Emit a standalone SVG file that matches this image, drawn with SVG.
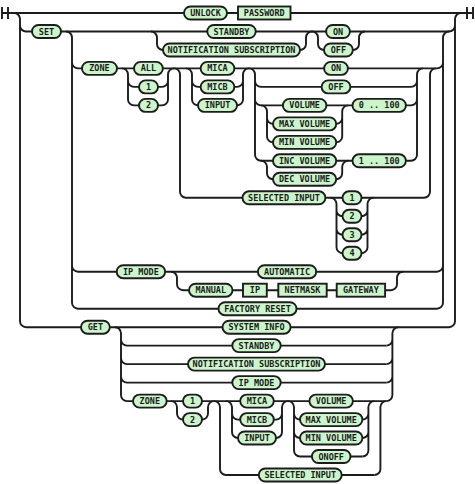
<svg xmlns="http://www.w3.org/2000/svg" width="475" height="484" viewBox="0 0 475 484">
<style>
path{fill:none;stroke:#1c1c1c;stroke-width:1.9}
rect{fill:#ccf5cc;stroke:#1c1c1c;stroke-width:1.9}
rect.t{rx:6.5;ry:6.5}
text{font-family:"DejaVu Sans Mono",monospace;font-weight:bold;font-size:8.5px;text-anchor:middle;fill:#1c1c1c;white-space:pre}
</style>
<rect x="0" y="0" width="475" height="484" style="fill:#fff;stroke:none"/>
<g id="connectors">
<!-- start / end markers and top row -->
<path d="M2 7v12M8 7v12M2 13H184M227 13H238M290.5 13H473M467 7v12M473 7v12"/>
<!-- outer choice -->
<path d="M14 13a6 6 0 0 1 6 6V321.2a6 6 0 0 0 6 6M20 25.5a6 6 0 0 0 6 6"/>
<path d="M449 327.2a6 6 0 0 0 6 -6V19a6 6 0 0 1 6 -6M449 31.5a6 6 0 0 0 6 -6"/>
<!-- SET row -->
<path d="M26 31.5H32M61 31.5H207.3M255.7 31.5H326.1M349.9 31.5H449"/>
<path d="M66 31.5a6 6 0 0 1 6 6V302.7a6 6 0 0 0 6 6M72 62.4a6 6 0 0 0 6 6M72 265.7a6 6 0 0 0 6 6"/>
<path d="M437 308.7a6 6 0 0 0 6 -6V37.5a6 6 0 0 1 6 -6M437 68.4a6 6 0 0 0 6 -6M437 271.7a6 6 0 0 0 6 -6"/>
<path d="M151 31.5a6 6 0 0 1 6 6V44a6 6 0 0 0 6 6M300 50a6 6 0 0 0 6 -6V37.5a6 6 0 0 1 6 -6"/>
<path d="M312 31.5a6 6 0 0 1 6 6V44a6 6 0 0 0 6 6M352.8 50H353a6 6 0 0 0 6 -6V37.5a6 6 0 0 1 6 -6"/>
<!-- SET ZONE row -->
<path d="M78 68.4H82M117 68.4H134M162.8 68.4H200.65M234.35 68.4H324.1M347.9 68.4H437"/>
<path d="M122 68.4a6 6 0 0 1 6 6V99.4a6 6 0 0 0 6 6M128 80.9a6 6 0 0 0 6 6M134 86.9H139M134 105.4H139M158 86.9H162M158 105.4H162"/>
<path d="M162 105.4a6 6 0 0 0 6 -6V74.4a6 6 0 0 1 6 -6M162 86.9a6 6 0 0 0 6 -6"/>
<path d="M174 68.4a6 6 0 0 1 6 6V191.8a6 6 0 0 0 6 6M186 197.8H242.5M325.4 197.8H342.5M361.5 197.8H424"/>
<path d="M330.5 197.8a6 6 0 0 1 6 6V247.2a6 6 0 0 0 6 6M336.5 210.3a6 6 0 0 0 6 6M336.5 228.8a6 6 0 0 0 6 6"/>
<path d="M361.5 253.2a6 6 0 0 0 6 -6V203.8a6 6 0 0 1 6 -6M361.5 216.3a6 6 0 0 0 6 -6M361.5 234.8a6 6 0 0 0 6 -6"/>
<path d="M424 197.8a6 6 0 0 0 6 -6V74.4a6 6 0 0 1 6 -6"/>
<path d="M186 68.4a6 6 0 0 1 6 6V99.4a6 6 0 0 0 6 6M192 80.9a6 6 0 0 0 6 6M198 86.9H200.65M234.35 86.9H237"/>
<path d="M237 105.4a6 6 0 0 0 6 -6V74.4a6 6 0 0 1 6 -6M237 86.9a6 6 0 0 0 6 -6"/>
<path d="M249 68.4a6 6 0 0 1 6 6V154.8a6 6 0 0 0 6 6M255 80.9a6 6 0 0 0 6 6M255 99.4a6 6 0 0 0 6 6"/>
<path d="M261 86.9H321.6M350.4 86.9H411M261 105.4H282.9M326.4 105.4H352.5M405.9 105.4H411"/>
<path d="M261 105.4a6 6 0 0 1 6 6V136.4a6 6 0 0 0 6 6M267 117.9a6 6 0 0 0 6 6"/>
<path d="M336.2 142.4a6 6 0 0 0 6 -6V111.4a6 6 0 0 1 6 -6M336.2 123.9a6 6 0 0 0 6 -6"/>
<path d="M261 160.8H273M336.2 160.8H352.5M405.9 160.8H411"/>
<path d="M261 160.8a6 6 0 0 1 6 6V173.3a6 6 0 0 0 6 6M336.2 179.3a6 6 0 0 0 6 -6V166.8a6 6 0 0 1 6 -6"/>
<path d="M411 160.8a6 6 0 0 0 6 -6V74.4a6 6 0 0 1 6 -6M411 86.9a6 6 0 0 0 6 -6M411 105.4a6 6 0 0 0 6 -6"/>
<!-- IP MODE / FACTORY RESET rows -->
<path d="M78 271.7H116.7M165.1 271.7H257.9M316.2 271.7H437"/>
<path d="M171 271.7a6 6 0 0 1 6 6V284.2a6 6 0 0 0 6 6M183 290.2H189M232.5 290.2H243M266.8 290.2H278.3M326.7 290.2H336.7M385.1 290.2H391"/>
<path d="M391 290.2a6 6 0 0 0 6 -6V277.7a6 6 0 0 1 6 -6"/>
<path d="M78 308.7H218.5M296.5 308.7H437"/>
<!-- GET rows -->
<path d="M26 327.2H81M109.8 327.2H222.5M290.6 327.2H449"/>
<path d="M115 327.2a6 6 0 0 1 6 6V395.1a6 6 0 0 0 6 6M121 339.6a6 6 0 0 0 6 6M121 358.1a6 6 0 0 0 6 6M121 376.6a6 6 0 0 0 6 6"/>
<path d="M127 345.6H232.3M280.7 345.6H386.4M127 364.1H188M325 364.1H386.4M127 382.6H232.3M280.7 382.6H386.4"/>
<path d="M386.4 401.1a6 6 0 0 0 6 -6V333.2a6 6 0 0 1 6 -6M386.4 345.6a6 6 0 0 0 6 -6M386.4 364.1a6 6 0 0 0 6 -6M386.4 382.6a6 6 0 0 0 6 -6"/>
<path d="M127 401.1H133M166.7 401.1H183M202 401.1H240.2M273.8 401.1H309.4M352.9 401.1H386.4"/>
<path d="M171 401.1a6 6 0 0 1 6 6V413.6a6 6 0 0 0 6 6M202 419.6a6 6 0 0 0 6 -6V407.1a6 6 0 0 1 6 -6"/>
<path d="M214 401.1a6 6 0 0 1 6 6V469a6 6 0 0 0 6 6M226 475H258.8M341.7 475H374.4"/>
<path d="M374.4 475a6 6 0 0 0 6 -6V407.1a6 6 0 0 1 6 -6"/>
<path d="M226 401.1a6 6 0 0 1 6 6V432a6 6 0 0 0 6 6M232 413.6a6 6 0 0 0 6 6M238 419.6H240.2M273.8 419.6H276"/>
<path d="M276 438a6 6 0 0 0 6 -6V407.1a6 6 0 0 1 6 -6M276 419.6a6 6 0 0 0 6 -6"/>
<path d="M288 401.1a6 6 0 0 1 6 6V450.5a6 6 0 0 0 6 6M294 413.6a6 6 0 0 0 6 6M294 432a6 6 0 0 0 6 6M300 456.5H311.9M350.5 456.5H362.4"/>
<path d="M362.4 456.5a6 6 0 0 0 6 -6V407.1a6 6 0 0 1 6 -6M362.4 419.6a6 6 0 0 0 6 -6M362.4 438a6 6 0 0 0 6 -6"/>
</g>
<g id="n-unlock"><rect class="t" x="184" y="6.5" width="43" height="13"/><text x="205.5" y="16">UNLOCK</text></g>
<g id="n-password"><rect x="238" y="6.5" width="52.5" height="13"/><text x="264.25" y="16">PASSWORD</text></g>
<g id="n-set"><rect class="t" x="32" y="25" width="29" height="13"/><text x="46.5" y="34.5">SET</text></g>
<g id="n-standby"><rect class="t" x="207.3" y="25" width="48.4" height="13"/><text x="231.5" y="34.5">STANDBY</text></g>
<g id="n-notif"><rect class="t" x="163" y="43.5" width="137" height="13"/><text x="231.5" y="53">NOTIFICATION SUBSCRIPTION</text></g>
<g id="n-on"><rect class="t" x="326.1" y="25" width="23.8" height="13"/><text x="338" y="34.5">ON</text></g>
<g id="n-off"><rect class="t" x="324" y="43.5" width="28.8" height="13"/><text x="338.4" y="53">OFF</text></g>
<g id="n-zone"><rect class="t" x="82" y="61.9" width="35" height="13"/><text x="99.5" y="71.4">ZONE</text></g>
<g id="n-all"><rect class="t" x="134" y="61.9" width="28.8" height="13"/><text x="148.4" y="71.4">ALL</text></g>
<g id="n-zone-1"><rect class="t" x="139" y="80.4" width="19" height="13"/><text x="148.5" y="89.9">1</text></g>
<g id="n-zone-2"><rect class="t" x="139" y="98.9" width="19" height="13"/><text x="148.5" y="108.4">2</text></g>
<g id="n-mica"><rect class="t" x="200.65" y="61.9" width="33.7" height="13"/><text x="217.5" y="71.4">MICA</text></g>
<g id="n-micb"><rect class="t" x="200.65" y="80.4" width="33.7" height="13"/><text x="217.5" y="89.9">MICB</text></g>
<g id="n-input"><rect class="t" x="198" y="98.9" width="39" height="13"/><text x="217.5" y="108.4">INPUT</text></g>
<g id="n-zone-on"><rect class="t" x="324.1" y="61.9" width="23.8" height="13"/><text x="336" y="71.4">ON</text></g>
<g id="n-zone-off"><rect class="t" x="321.6" y="80.4" width="28.8" height="13"/><text x="336" y="89.9">OFF</text></g>
<g id="n-volume"><rect class="t" x="282.9" y="98.9" width="43.5" height="13"/><text x="304.65" y="108.4">VOLUME</text></g>
<g id="n-range-vol"><rect class="t" x="352.5" y="98.9" width="53.4" height="13"/><text x="379.2" y="108.4">0 .. 100</text></g>
<g id="n-maxvol"><rect class="t" x="273" y="117.4" width="63.2" height="13"/><text x="304.6" y="126.9">MAX VOLUME</text></g>
<g id="n-minvol"><rect class="t" x="273" y="135.9" width="63.2" height="13"/><text x="304.6" y="145.4">MIN VOLUME</text></g>
<g id="n-incvol"><rect class="t" x="273" y="154.3" width="63.2" height="13"/><text x="304.6" y="163.8">INC VOLUME</text></g>
<g id="n-range-step"><rect class="t" x="352.5" y="154.3" width="53.4" height="13"/><text x="379.2" y="163.8">1 .. 100</text></g>
<g id="n-decvol"><rect class="t" x="273" y="172.8" width="63.2" height="13"/><text x="304.6" y="182.3">DEC VOLUME</text></g>
<g id="n-selinput"><rect class="t" x="242.5" y="191.3" width="82.9" height="13"/><text x="283.95" y="200.8">SELECTED INPUT</text></g>
<g id="n-in-1"><rect class="t" x="342.5" y="191.3" width="19" height="13"/><text x="352" y="200.8">1</text></g>
<g id="n-in-2"><rect class="t" x="342.5" y="209.8" width="19" height="13"/><text x="352" y="219.3">2</text></g>
<g id="n-in-3"><rect class="t" x="342.5" y="228.3" width="19" height="13"/><text x="352" y="237.8">3</text></g>
<g id="n-in-4"><rect class="t" x="342.5" y="246.7" width="19" height="13"/><text x="352" y="256.2">4</text></g>
<g id="n-ipmode"><rect class="t" x="116.7" y="265.2" width="48.4" height="13"/><text x="140.9" y="274.7">IP MODE</text></g>
<g id="n-automatic"><rect class="t" x="257.9" y="265.2" width="58.3" height="13"/><text x="287.05" y="274.7">AUTOMATIC</text></g>
<g id="n-manual"><rect class="t" x="189" y="283.7" width="43.5" height="13"/><text x="210.75" y="293.2">MANUAL</text></g>
<g id="n-ip"><rect x="243" y="283.7" width="23.8" height="13"/><text x="254.9" y="293.2">IP</text></g>
<g id="n-netmask"><rect x="278.3" y="283.7" width="48.4" height="13"/><text x="302.5" y="293.2">NETMASK</text></g>
<g id="n-gateway"><rect x="336.7" y="283.7" width="48.4" height="13"/><text x="360.9" y="293.2">GATEWAY</text></g>
<g id="n-factory"><rect class="t" x="218.5" y="302.2" width="78" height="13"/><text x="257.5" y="311.7">FACTORY RESET</text></g>
<g id="n-get"><rect class="t" x="81" y="320.7" width="28.8" height="13"/><text x="95.4" y="330.2">GET</text></g>
<g id="n-sysinfo"><rect class="t" x="222.5" y="320.7" width="68.1" height="13"/><text x="256.55" y="330.2">SYSTEM INFO</text></g>
<g id="n-get-standby"><rect class="t" x="232.3" y="339.1" width="48.4" height="13"/><text x="256.5" y="348.6">STANDBY</text></g>
<g id="n-get-notif"><rect class="t" x="188" y="357.6" width="137" height="13"/><text x="256.5" y="367.1">NOTIFICATION SUBSCRIPTION</text></g>
<g id="n-get-ipmode"><rect class="t" x="232.3" y="376.1" width="48.4" height="13"/><text x="256.5" y="385.6">IP MODE</text></g>
<g id="n-get-zone"><rect class="t" x="133" y="394.6" width="33.7" height="13"/><text x="149.85" y="404.1">ZONE</text></g>
<g id="n-get-1"><rect class="t" x="183" y="394.6" width="19" height="13"/><text x="192.5" y="404.1">1</text></g>
<g id="n-get-2"><rect class="t" x="183" y="413.1" width="19" height="13"/><text x="192.5" y="422.6">2</text></g>
<g id="n-get-mica"><rect class="t" x="240.2" y="394.6" width="33.6" height="13"/><text x="257" y="404.1">MICA</text></g>
<g id="n-get-micb"><rect class="t" x="240.2" y="413.1" width="33.6" height="13"/><text x="257" y="422.6">MICB</text></g>
<g id="n-get-input"><rect class="t" x="238" y="431.5" width="38" height="13"/><text x="257" y="441">INPUT</text></g>
<g id="n-get-volume"><rect class="t" x="309.4" y="394.6" width="43.5" height="13"/><text x="331.15" y="404.1">VOLUME</text></g>
<g id="n-get-maxvol"><rect class="t" x="300" y="413.1" width="62.4" height="13"/><text x="331.2" y="422.6">MAX VOLUME</text></g>
<g id="n-get-minvol"><rect class="t" x="300" y="431.5" width="62.4" height="13"/><text x="331.2" y="441">MIN VOLUME</text></g>
<g id="n-get-onoff"><rect class="t" x="311.9" y="450" width="38.6" height="13"/><text x="331.2" y="459.5">ONOFF</text></g>
<g id="n-get-selinput"><rect class="t" x="258.8" y="468.5" width="82.9" height="13"/><text x="300.25" y="478">SELECTED INPUT</text></g>
</svg>
